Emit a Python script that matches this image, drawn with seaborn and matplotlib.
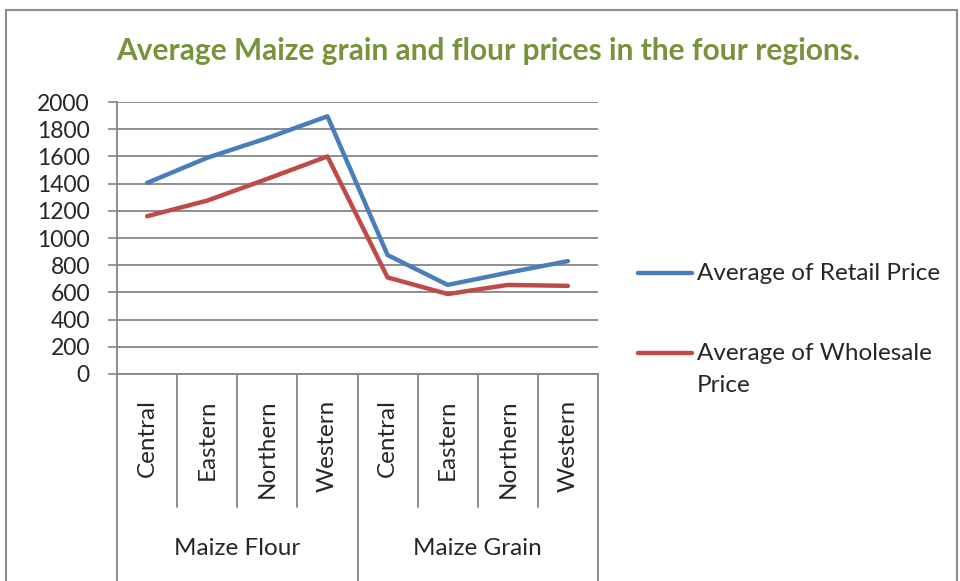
import numpy as np
import pandas as pd
import matplotlib
matplotlib.use("Agg")
import matplotlib.pyplot as plt
import seaborn as sns
from matplotlib.lines import Line2D
from matplotlib.patches import Rectangle

# ==========================
# Data
# ==========================

groups = ["Maize Flour", "Maize Grain"]
regions = ["Central", "Eastern", "Northern", "Western"]
retail = [1405, 1590, 1735, 1895, 875, 655, 745, 830]
wholesale = [1160, 1275, 1435, 1600, 710, 588, 655, 648]
series_names = ["Average of Retail Price", "Average of Wholesale Price"]
y_ticks = [0, 200, 400, 600, 800, 1000, 1200, 1400, 1600, 1800, 2000]

title = "Average Maize grain and flour prices in the four regions."

# long table for seaborn
n = len(groups) * len(regions)
df = pd.DataFrame({
    "pos": list(range(n)) * 2,
    "price": retail + wholesale,
    "series": [series_names[0]] * n + [series_names[1]] * n,
})

# ==========================
# Plot
# ==========================

sns.set_style("white")
plt.rcParams["font.family"] = ["Lato", "DejaVu Sans"]

fig = plt.figure(figsize=(9.6, 5.81), dpi=100)
ax = fig.add_axes([0.1219, 0.3563, 0.5010, 0.4681])

blue = "#4A7EBB"
red = "#BE4B48"
grid_c = "#868686"
txt_size = 17.5

sns.lineplot(
    data=df,
    x="pos",
    y="price",
    hue="series",
    palette=[blue, red],
    linewidth=3.2,
    ax=ax,
    legend=False,
    solid_capstyle="round",
    zorder=3
)

ax.set_xlim(-0.5, n - 0.5)
ax.set_ylim(0, 2000)
ax.set_yticks(y_ticks)
ax.set_yticklabels([str(v) for v in y_ticks], fontsize=16.5)
ax.set_xticks([])
ax.set_xlabel("")
ax.set_ylabel("")

for v in y_ticks:
    ax.axhline(v, color=grid_c, linewidth=1.3, zorder=1)

ax.tick_params(axis="y", length=6.5, width=1.2, color=grid_c, pad=13, direction="out", left=True)

for s in ["top", "right"]:
    ax.spines[s].set_visible(False)
for s in ["left", "bottom"]:
    ax.spines[s].set_color(grid_c)
    ax.spines[s].set_linewidth(1.3)

# hierarchical category axis
trans = ax.get_xaxis_transform()
inner_bottom = -0.489
outer_bottom = -0.80

for i in range(n + 1):
    x = i - 0.5
    is_group_edge = (i % len(regions) == 0)
    ax.plot([x, x], [0, outer_bottom if is_group_edge else inner_bottom],
            transform=trans, color=grid_c, linewidth=1.3, clip_on=False)

for i in range(n):
    ax.text(i, -0.094, regions[i % len(regions)], transform=trans,
            rotation=90, ha="center", va="top", fontsize=txt_size)

for g, name in enumerate(groups):
    center = g * len(regions) + (len(regions) - 1) / 2
    ax.text(center, -0.643, name, transform=trans,
            ha="center", va="center", fontsize=txt_size)

# title
fig.text(0.508, 0.912, title, ha="center", va="center",
         fontsize=21.5, fontweight="bold", color="#77933C")

# legend (drawn by hand, Excel style)
leg_x0, leg_x1, leg_tx = 0.6646, 0.7208, 0.726
fig.lines.append(Line2D([leg_x0, leg_x1], [0.530, 0.530], transform=fig.transFigure,
                        color=blue, linewidth=3.2, solid_capstyle="round"))
fig.text(leg_tx, 0.530, "Average of Retail Price", ha="left", va="center", fontsize=txt_size)

fig.lines.append(Line2D([leg_x0, leg_x1], [0.3924, 0.3924], transform=fig.transFigure,
                        color=red, linewidth=3.2, solid_capstyle="round"))
fig.text(leg_tx, 0.3924, "Average of Wholesale", ha="left", va="center", fontsize=txt_size)
fig.text(leg_tx, 0.3373, "Price", ha="left", va="center", fontsize=txt_size)

# outer chart frame
fig.patches.append(Rectangle((0.006, -0.1), 0.991, 1.083, transform=fig.transFigure,
                             fill=False, edgecolor="#8C8C8C", linewidth=1.5))

plt.savefig("out.png", dpi=100)
plt.close()
